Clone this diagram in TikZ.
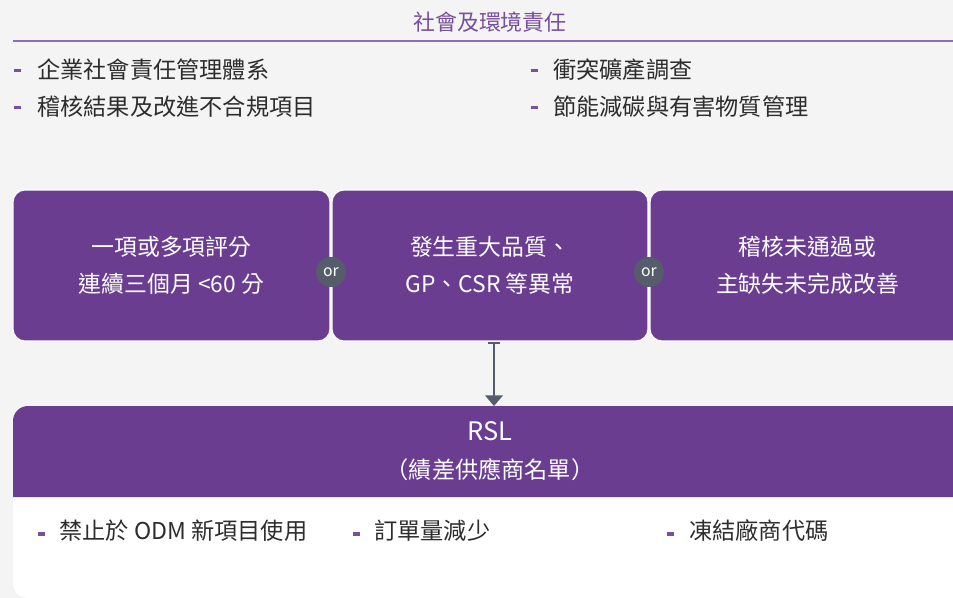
\documentclass[tikz,border=0pt]{standalone}
\usepackage{fontspec}
\setmainfont{Noto Sans CJK TC}
\usepackage{tikz}
\usetikzlibrary{arrows.meta,positioning,calc}
\definecolor{csrpurple}{RGB}{106,61,145}
\definecolor{titlepurple}{RGB}{120,78,160}
\definecolor{rulepurple}{RGB}{140,108,182}
\definecolor{orgray}{RGB}{85,93,107}
\definecolor{bggray}{RGB}{244,244,244}
\definecolor{textgray}{RGB}{45,45,45}

\tikzset{
  condbox/.style={fill=csrpurple, draw=white, line width=0.6pt, rounded corners=0.24cm,
    minimum height=3.02cm, text=white, align=center,
    font=\fontsize{13}{20.8}\selectfont},
  orbadge/.style={circle, fill=orgray, text=white, minimum size=0.6cm, inner sep=0pt,
    font=\fontsize{9}{9}\selectfont},
  itemtext/.style={anchor=west, text=textgray, inner sep=0pt, font=\fontsize{13.2}{15}\selectfont},
  dashmark/.style={fill=csrpurple!90!white}
}

\begin{document}
\begin{tikzpicture}[x=0.02cm, y=-0.02cm, >=latex]

% 1. Canvas
\useasboundingbox (0,0) rectangle (953,598);
\clip (0,0) rectangle (953,598);
\fill[bggray] (0,0) rectangle (953,598);

% 2. Heading and rule
\node[text=titlepurple, font=\fontsize{12.5}{14}\selectfont] (title) at (490,22) {社會及環境責任};
\draw[rulepurple, line width=1.1pt] (13,41) -- (960,41);

% 3. CSR items
\fill[dashmark] (14,69) rectangle (21,72.5);
\node[itemtext] (csr1) at (37,70) {企業社會責任管理體系};
\fill[dashmark] (14,106) rectangle (21,109.5);
\node[itemtext] (csr2) at (37,107) {稽核結果及改進不合規項目};
\fill[dashmark] (531,69) rectangle (538,72.5);
\node[itemtext] (csr3) at (553,70) {衝突礦產調查};
\fill[dashmark] (531,106) rectangle (538,109.5);
\node[itemtext] (csr4) at (553,107) {節能減碳與有害物質管理};

% 4. Trigger conditions
\node[condbox, minimum width=6.34cm] (cond1) at (171.5,265.5) {一項或多項評分\\連續三個月 <60 分};
\node[condbox, minimum width=6.32cm] (cond2) at (490,265.5) {發生重大品質、\\GP、CSR 等異常};
\node[condbox, minimum width=6.30cm] (cond3) at (807.5,265.5) {稽核未通過或\\主缺失未完成改善};
\node[orbadge] (or1) at (331,272) {or};
\node[orbadge] (or2) at (649,272) {or};

% 5. RSL block
\fill[white] (13,440) [rounded corners=0.3cm] -- (13,598) -- (970,598) [sharp corners] -- (970,440) -- cycle;
\fill[csrpurple] (13,497) [rounded corners=0.3cm] -- (13,406) -- (970,406) [sharp corners] -- (970,497) -- cycle;
\node[text=white, align=center] (rsl) at (490,451)
  {{\fontsize{14.5}{16}\selectfont RSL}\\[10pt]{\fontsize{13.2}{15}\selectfont （績差供應商名單）}};

% 6. Arrow into RSL
\coordinate (arrtop) at (494,341.5);
\coordinate (arrbot) at (494,406);
\draw[orgray, line width=0.9pt, {Rectangle[length=1.6pt,width=7pt]}-{Triangle[length=6pt,width=10pt]}] (arrtop) -- (arrbot);

% 7. Measures
\fill[dashmark] (38,532) rectangle (45,535.5);
\node[itemtext] (act1) at (59,531) {禁止於 ODM 新項目使用};
\fill[dashmark] (353,532) rectangle (360,535.5);
\node[itemtext] (act2) at (374,531) {訂單量減少};
\fill[dashmark] (667,532) rectangle (674,535.5);
\node[itemtext] (act3) at (689,531) {凍結廠商代碼};

\end{tikzpicture}
\end{document}
